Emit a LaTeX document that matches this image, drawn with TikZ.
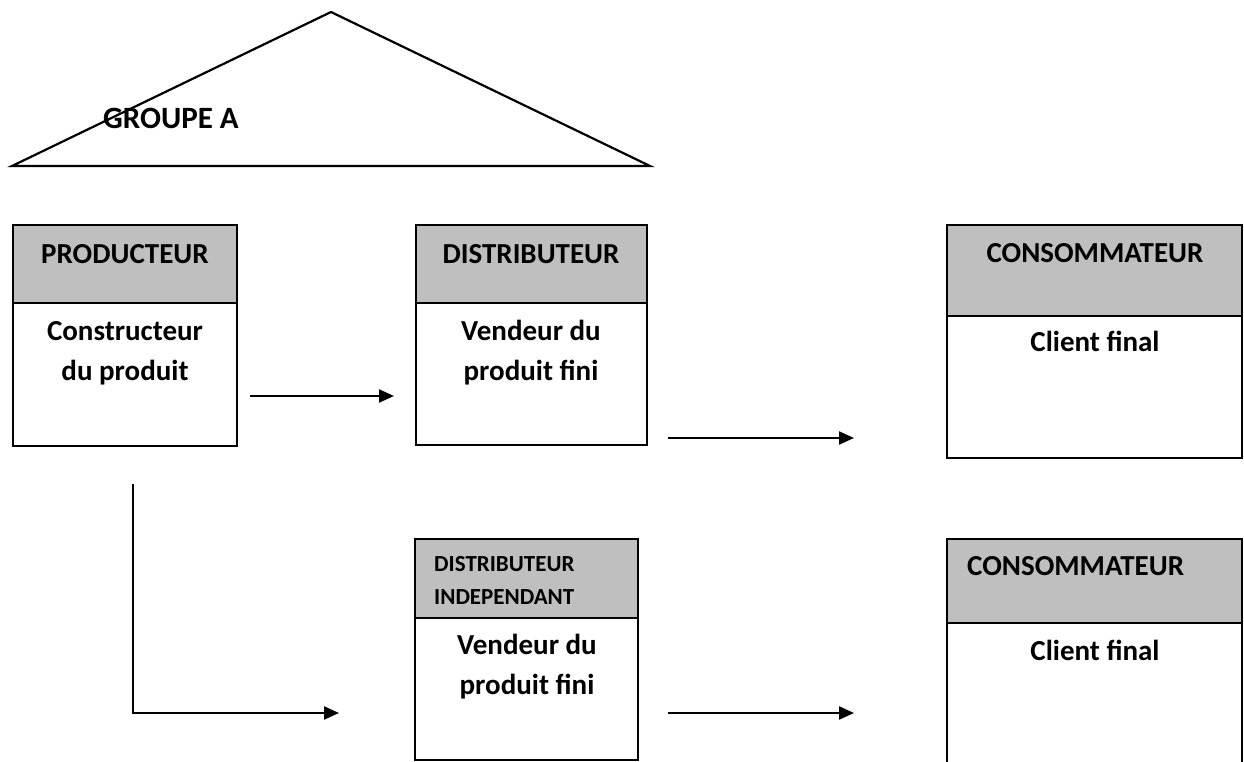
\documentclass[tikz,border=0pt]{standalone}
\usepackage{fontspec}
\setmainfont{Carlito}
\usetikzlibrary{arrows.meta}
\definecolor{grisclair}{HTML}{BFBFBF}

\begin{document}
\begin{tikzpicture}[x=1pt,y=-1pt,
    boite/.style={draw,line width=2.2pt},
    entete/.style={boite,fill=grisclair},
    grand/.style={font=\fontsize{29}{40}\selectfont\bfseries,inner sep=0pt,anchor=base},
    petit/.style={font=\fontsize{23}{33}\selectfont\bfseries,inner sep=0pt,anchor=base west,align=left},
    fleche/.style={line width=2.2pt,-{Triangle[length=15pt,width=13pt]}}]
          \useasboundingbox (0,0) rectangle (1244,762);
          % groupe
          \draw[line width=2.2pt] (12,166) -- (331,12) -- (650,166) -- cycle;
          \node[grand,anchor=base west,font=\fontsize{31}{40}\selectfont\bfseries] (groupe) at (103,129) {GROUPE A};
          % producteur
          \draw[entete] (13,225) rectangle (237,303);
          \draw[boite] (13,303) rectangle (237,446);
          \node[grand] (prod) at (125,263) {PRODUCTEUR};
          \node[grand,align=center] (prodtxt) at (125,380) {Constructeur\\du produit};
          % distributeur
          \draw[entete] (416,225) rectangle (647,303);
          \draw[boite] (416,303) rectangle (647,445);
          \node[grand] (dist) at (531,263) {DISTRIBUTEUR};
          \node[grand,align=center] (disttxt) at (531,380) {Vendeur du\\produit fini};
          % consommateur
          \draw[entete] (947,225) rectangle (1242,316);
          \draw[boite] (947,316) rectangle (1242,458);
          \node[grand] (cons) at (1095,262) {CONSOMMATEUR};
          \node[grand] (constxt) at (1095,351) {Client final};
          % distributeur independant
          \draw[entete] (415,539) rectangle (638,618);
          \draw[boite] (415,618) rectangle (638,760);
          \node[petit] (indep) at (434,604) {DISTRIBUTEUR\\INDEPENDANT};
          \node[grand,align=center] (indeptxt) at (527,694) {Vendeur du\\produit fini};
          % consommateur 2
          \draw[entete] (947,539) rectangle (1242,623);
          \draw[boite] (947,762) -- (947,623) (1242,623) -- (1242,762);
          \node[grand,anchor=base west] (cons2) at (967,575) {CONSOMMATEUR};
          \node[grand] (cons2txt) at (1095,660) {Client final};
          % fleches
          \coordinate (a1) at (250,396);
          \coordinate (b1) at (394,396);
          \coordinate (a2) at (668,438);
          \coordinate (b2) at (854,438);
          \coordinate (a3) at (133,484);
          \coordinate (c3) at (133,713);
          \coordinate (b3) at (339,713);
          \coordinate (a4) at (668,713);
          \coordinate (b4) at (854,713);
          \draw[fleche] (a1) -- (b1);
          \draw[fleche] (a2) -- (b2);
          \draw[fleche] (a3) -- (c3) -- (b3);
          \draw[fleche] (a4) -- (b4);
        \end{tikzpicture}
\end{document}
